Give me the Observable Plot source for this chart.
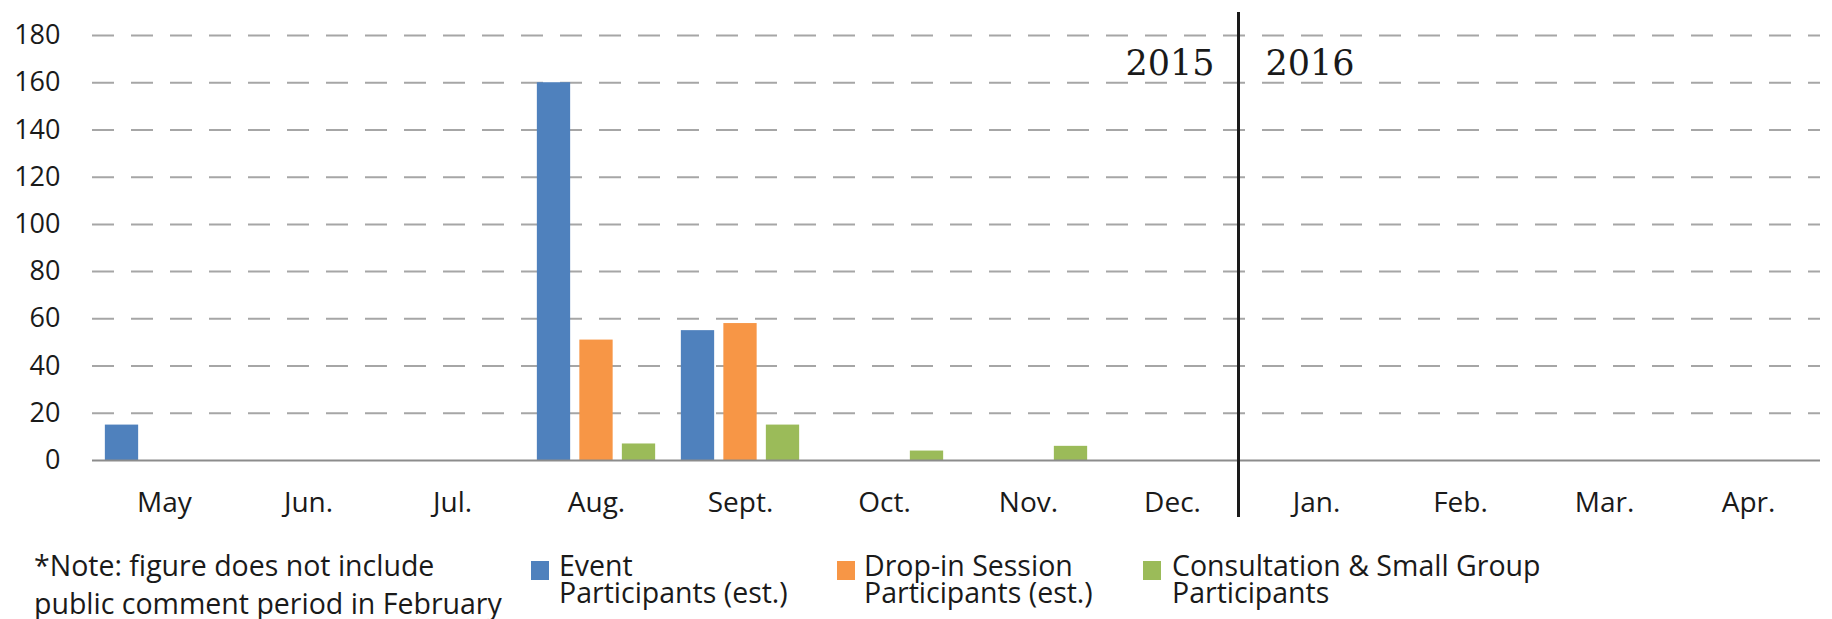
<!DOCTYPE html>
<html>
<head>
<meta charset="utf-8">
<script src="https://cdn.jsdelivr.net/npm/d3@7"></script>
<script src="https://cdn.jsdelivr.net/npm/@observablehq/plot@0.6"></script>
<style>
  html, body { margin: 0; padding: 0; background: white; }
  #wrap { width: 1832px; position: relative; }
  #legend { position: relative; width: 1832px; height: 79px; font-family: "Open Sans", sans-serif; color: #1a1a1a; }
  .note { position: absolute; left: 34px; top: 6px; font-size: 28.5px; line-height: 38px; white-space: nowrap; }
  .item { position: absolute; top: 21px; }
  .sw { position: absolute; top: 0; width: 18px; height: 19px; }
  .lab { position: absolute; top: -9px; font-size: 28.5px; line-height: 27px; white-space: nowrap; }
</style>
</head>
<body>
<div id="wrap"></div>
<script>
const months = ["May", "Jun.", "Jul.", "Aug.", "Sept.", "Oct.", "Nov.", "Dec.", "Jan.", "Feb.", "Mar.", "Apr."];
const eventParticipants = [15, 0, 0, 160, 55, 0, 0, 0, 0, 0, 0, 0];
const dropInParticipants = [0, 0, 0, 51, 58, 0, 0, 0, 0, 0, 0, 0];
const consultationParticipants = [0, 0, 0, 7, 15, 4, 6, 0, 0, 0, 0, 0];
const yTicks = [0, 20, 40, 60, 80, 100, 120, 140, 160, 180];
const seriesNames = ["Event Participants (est.)", "Drop-in Session Participants (est.)", "Consultation & Small Group Participants"];
const seriesColors = ["#4F81BD", "#F79646", "#9BBB59"];
const yearDivider = ["Dec."];
const noteText = ["*Note: figure does not include", "public comment period in February"];

const rows = (vals) => months.map((m, i) => ({month: m, value: vals[i]})).filter(d => d.value > 0);

const chart = Plot.plot({
  width: 1832,
  height: 540,
  marginLeft: 92,
  marginRight: 12,
  marginTop: 35,
  marginBottom: 80,
  style: {fontFamily: "Open Sans", fontSize: "27px", color: "#1a1a1a", background: "white"},
  x: {domain: months, padding: 0, label: null},
  y: {domain: [0, 180], label: null},
  marks: [
    Plot.ruleY(yTicks.filter(t => t > 0), {stroke: "#a6a6a6", strokeWidth: 2, strokeDasharray: "22,17"}),
    Plot.barY(rows(eventParticipants), {x: "month", y: "value", fill: seriesColors[0], insetLeft: 12.85, insetRight: 97.85}),
    Plot.barY(rows(dropInParticipants), {x: "month", y: "value", fill: seriesColors[1], insetLeft: 55.35, insetRight: 55.35}),
    Plot.barY(rows(consultationParticipants), {x: "month", y: "value", fill: seriesColors[2], insetLeft: 97.85, insetRight: 12.85}),
    Plot.ruleY([0], {stroke: "#8c8c8c", strokeWidth: 2}),
    Plot.ruleX(yearDivider, {x: d => d, dx: 66, stroke: "#1a1a1a", strokeWidth: 3, insetTop: -23, insetBottom: -57}),
    Plot.text(["2015"], {x: () => yearDivider[0], frameAnchor: "top", dy: 15, dx: 42, textAnchor: "end", text: d => d, fontFamily: "DejaVu Serif", fontSize: 35, fill: "#1a1a1a"}),
    Plot.text(["2016"], {x: () => yearDivider[0], frameAnchor: "top", dy: 15, dx: 93, textAnchor: "start", text: d => d, fontFamily: "DejaVu Serif", fontSize: 35, fill: "#1a1a1a"}),
    Plot.axisY(yTicks, {tickSize: 0, tickPadding: 32, fontSize: 27, label: null}),
    Plot.axisX({tickSize: 0, tickPadding: 32, fontSize: 28, label: null})
  ]
});
document.getElementById("wrap").appendChild(chart);

// Legend + note below the SVG
const legend = d3.select("#wrap").append("div").attr("id", "legend");
legend.append("div").attr("class", "note").html(noteText.join("<br>"));
const itemPos = [{sw: 531, lab: 559}, {sw: 837, lab: 864}, {sw: 1143, lab: 1172}];
const labelLines = [["Event", "Participants (est.)"], ["Drop-in Session", "Participants (est.)"], ["Consultation & Small Group", "Participants"]];
seriesNames.forEach((name, i) => {
  const it = legend.append("div").attr("class", "item").attr("title", name);
  it.append("div").attr("class", "sw").style("left", itemPos[i].sw + "px").style("background", seriesColors[i]);
  it.append("div").attr("class", "lab").style("left", itemPos[i].lab + "px").html(labelLines[i].join("<br>"));
});
</script>
</body>
</html>
